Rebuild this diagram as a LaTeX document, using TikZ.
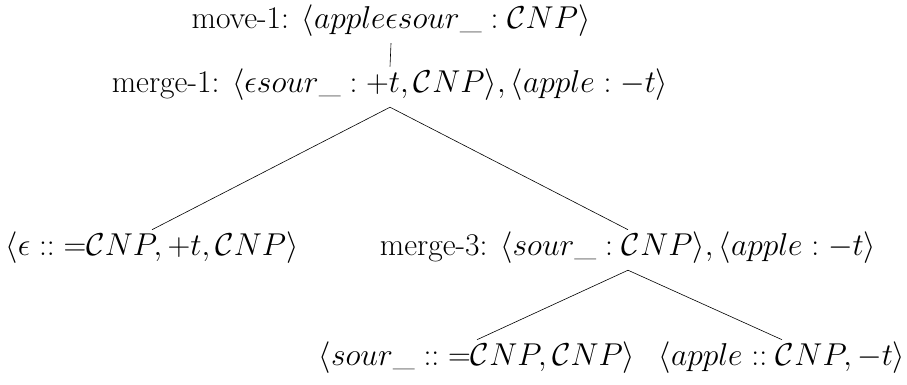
\documentclass[tikz,border=0pt]{standalone}
\begin{document}
\begin{tikzpicture}[x=1pt,y=1pt,
  lbl/.style={inner sep=0pt, anchor=base, scale=1.27, transform shape,
              text height=20.5pt, text depth=11pt,
              font=\fontsize{24.88}{30}\selectfont},
  edge/.style={draw, line width=0.6pt}]
\useasboundingbox (0,0) rectangle (907,385);
\node[lbl] (m1) at (391,356) {move-1: $\langle apple\epsilon sour\_ : \mathcal{C}NP\rangle$};
\node[lbl] (mg1) at (390,292) {merge-1: $\langle \epsilon sour\_ : +t, \mathcal{C}NP\rangle, \langle apple : -t\rangle$};
\node[lbl] (la) at (152,129) {$\langle \epsilon \mathrel{::} {=}\mathcal{C}NP, +t, \mathcal{C}NP\rangle$};
\node[lbl] (mg3) at (628,129) {merge-3: $\langle sour\_ : \mathcal{C}NP\rangle, \langle apple : -t\rangle$};
\node[lbl] (lb) at (477,19) {$\langle sour\_ \mathrel{::} {=}\mathcal{C}NP, \mathcal{C}NP\rangle$};
\node[lbl] (lc) at (782,19) {$\langle apple \mathrel{::} \mathcal{C}NP, -t\rangle$};
\draw[edge] (m1.south) -- (mg1.north);
\draw[edge] (mg1.south) -- (la.north);
\draw[edge] (mg1.south) -- (mg3.north);
\draw[edge] (mg3.south) -- (lb.north);
\draw[edge] (mg3.south) -- (lc.north);
\end{tikzpicture}
\end{document}
